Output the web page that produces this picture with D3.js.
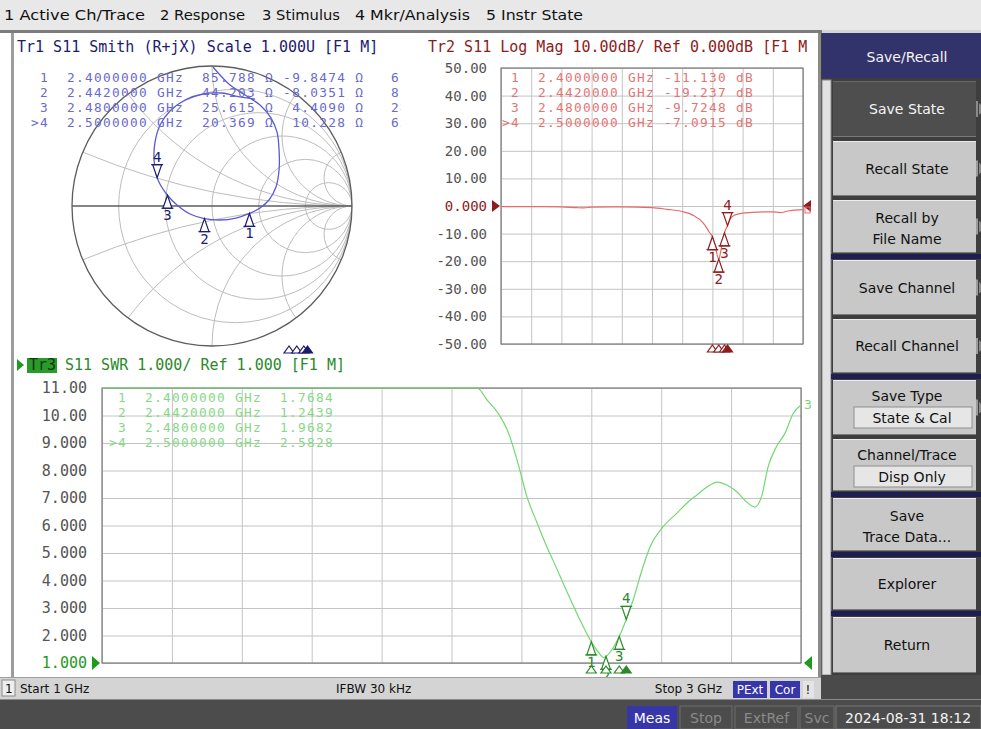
<!DOCTYPE html>
<html>
<head>
<meta charset="utf-8">
<title>S11 Smith / Log Mag / SWR</title>
<script src="https://cdn.jsdelivr.net/npm/d3@7/dist/d3.min.js"></script>
<style>
  body { margin: 0; background: #d6d6d6; overflow: hidden; }
  svg { display: block; }
  text { white-space: pre; }
</style>
</head>
<body>
<svg id="screen" width="981" height="729"></svg>
<script>
// stimulus, GHz
var freqDomain = [1, 3];
var freqTicks = [1, 1.2, 1.4, 1.6, 1.8, 2, 2.2, 2.4, 2.6, 2.8, 3];

// marker readouts
var markerNames = ["1", "2", "3", ">4"];
var markerFreq = [2.4, 2.442, 2.48, 2.5];
var markerRes = [85.788, 44.203, 25.615, 20.369];
var markerReact = [-9.8474, -8.0351, 4.4090, 10.228];
var markerEquiv = ["6.7341 pF", "8.1110 pF", "282.95 pH", "651.13 pH"];
var markerDb = [-11.130, -19.237, -9.7248, -7.0915];
var markerSwr = [1.7684, 1.2439, 1.9682, 2.5828];

// Tr1 smith trace, reflection coefficient
var smithRe = [0.007, 0.057, 0.129, 0.236, 0.343, 0.421, 0.464, 0.479, 0.479, 0.457, 0.407, 0.343, 0.268, 0.171, 0.057,
  -0.054, -0.157, -0.25, -0.318, -0.364, -0.392, -0.414, -0.407, -0.371, -0.3, -0.193, -0.064, 0.071, 0.2, 0.307];
var smithIm = [0.993, 0.936, 0.864, 0.793, 0.721, 0.629, 0.529, 0.4, 0.257, 0.136, 0.043, -0.014, -0.053, -0.086, -0.1,
  -0.09, -0.057, 0.007, 0.077, 0.143, 0.203, 0.329, 0.457, 0.579, 0.679, 0.757, 0.8, 0.807, 0.779, 0.764];

// Tr2 log mag trace
var magFreq = [1.0, 1.2, 1.4, 1.5, 1.55, 1.6, 1.8, 2.0, 2.1, 2.2, 2.27, 2.34, 2.38, 2.4, 2.42, 2.442, 2.455, 2.48, 2.5,
  2.52, 2.55, 2.6, 2.7, 2.8, 2.85, 2.9, 3.0];
var magDb = [-0.2, -0.2, -0.3, -0.6, -0.7, -0.4, -0.3, -0.6, -1.2, -2.0, -3.3, -6.2, -9.5, -11.13, -15.0, -19.24, -16.5,
  -9.72, -7.09, -4.5, -3.2, -2.6, -2.2, -2.1, -2.4, -1.8, -1.3];
var magTicks = [50, 40, 30, 20, 10, 0, -10, -20, -30, -40, -50];

// Tr3 SWR trace (clipped at top of scale below 2.07 GHz)
var swrFreq = [1.0, 1.5, 2.0, 2.073, 2.102, 2.133, 2.162, 2.19, 2.216, 2.245, 2.273, 2.29, 2.33, 2.37, 2.4, 2.42, 2.435,
  2.442, 2.46, 2.48, 2.5, 2.52, 2.545, 2.568, 2.605, 2.645, 2.674, 2.702, 2.731, 2.76, 2.788, 2.817, 2.845, 2.868, 2.887,
  2.906, 2.93, 2.954, 2.978, 3.0];
var swrVal = [11, 11, 11, 11, 10.56, 10.09, 9.4, 8.27, 7.04, 6.09, 5.22, 4.75, 3.6, 2.5, 1.77, 1.4, 1.2,
  1.24, 1.5, 1.97, 2.58, 3.3, 4.38, 5.22, 5.95, 6.45, 6.82, 7.11, 7.4, 7.58, 7.47, 7.22, 6.85, 6.67, 7.05,
  8.14, 8.87, 9.35, 10.08, 10.38];
var swrTicks = [11, 10, 9, 8, 7, 6, 5, 4, 3, 2, 1];

var menuItems = ["1 Active Ch/Trace", "2 Response", "3 Stimulus", "4 Mkr/Analysis", "5 Instr State"];
var softkeys = [
  { lines: ["Save State"], y0: 81, y1: 137, active: true, arrow: true },
  { lines: ["Recall State"], y0: 141, y1: 196, arrow: true },
  { lines: ["Recall by", "File Name"], y0: 200, y1: 253, arrow: true },
  { lines: ["Save Channel"], y0: 260, y1: 315, arrow: true },
  { lines: ["Recall Channel"], y0: 319, y1: 373, arrow: true },
  { lines: ["Save Type"], box: "State & Cal", y0: 380, y1: 435, arrow: true },
  { lines: ["Channel/Trace"], box: "Disp Only", y0: 439, y1: 491 },
  { lines: ["Save", "Trace Data..."], y0: 498, y1: 551 },
  { lines: ["Explorer"], y0: 558, y1: 610 },
  { lines: ["Return"], y0: 617, y1: 673 }
];
var navySeps = [254, 374, 492, 552, 611];

var MONO = "'DejaVu Sans Mono', monospace";
var UI = "'DejaVu Sans', Verdana, sans-serif";
var loc = d3.formatLocale({ decimal: ".", thousands: ",", grouping: [3], currency: ["", ""], minus: "-" });
var num5 = loc.format(".5r");
var tick4 = loc.format(".4r");

var svg = d3.select("#screen");

function label(parent, x, y, str, size, color, family, anchor) {
  return parent.append("text")
    .attr("x", x)
    .attr("y", y)
    .attr("font-family", family || MONO)
    .attr("font-size", size)
    .attr("fill", color)
    .attr("text-anchor", anchor || "start")
    .text(str);
}

// readout rows: smaller glyphs, same 9px pitch
function row(parent, x, y, str, color) {
  return label(parent, x, y, str, 12.8, color).attr("letter-spacing", 1.3);
}

function pad(s, n) {
  s = String(s);
  while (s.length < n) s = " " + s;
  return s;
}

function rect(parent, x, y, w, h, fill) {
  return parent.append("rect").attr("x", x).attr("y", y).attr("width", w).attr("height", h).attr("fill", fill);
}

// grid lines only, no tick text
function gridOnly(a) {
  a.select(".domain").remove();
  a.selectAll("text").remove();
  a.selectAll("line").attr("stroke", "#c4c4c4");
}

// marker glyph: triangle pointing at the trace point
function marker(g, x, y, up, name, color) {
  var s = up ? 1 : -1;
  g.append("path")
    .attr("d", "M" + x + "," + y + "l-4.5," + (13 * s) + "h9z")
    .attr("fill", "#fff").attr("stroke", color).attr("stroke-width", 1.2);
  g.append("line")
    .attr("x1", x - 6).attr("x2", x + 6).attr("y1", y + 13 * s).attr("y2", y + 13 * s)
    .attr("stroke", color).attr("stroke-width", 1.2);
  label(g, x, up ? y + 25 : y - 16, name, 14, color, MONO, "middle");
}

// small stimulus indicators under each chart
function indicators(g, xs, y, color) {
  xs.forEach(function(x, i) {
    g.append("path")
      .attr("d", "M" + x + "," + (y - 6) + "l-5,7h10z")
      .attr("fill", i == xs.length - 1 ? color : "#fff")
      .attr("stroke", color).attr("stroke-width", 1.2);
  });
}

// ---------- frame ----------
rect(svg, 0, 0, 981, 729, "#d6d6d6");
rect(svg, 0, 0, 981, 30, "#e8e8e8");
var menuX = [4, 160, 262, 355, 486];
var menuW = [141, 85, 78, 115, 97];
menuItems.forEach(function(m, i) {
  label(svg, menuX[i], 20, m, 14, "#111", UI).attr("textLength", menuW[i]).attr("lengthAdjust", "spacingAndGlyphs");
});
rect(svg, 0, 30, 822, 3, "#7c7c7c");
rect(svg, 0, 33, 820, 644, "#ffffff");
rect(svg, 11, 33, 3, 644, "#9c9c9c");
rect(svg, 818, 33, 3, 644, "#8a8a8a");

// ---------- Tr1 smith ----------
var cx = 212, cy = 206, R = 140;
var sx = d3.scaleLinear().domain([-1, 1]).range([cx - R, cx + R]);
var sy = d3.scaleLinear().domain([-1, 1]).range([cy + R, cy - R]);
var smith = svg.append("g");
svg.append("clipPath").attr("id", "unit").append("circle").attr("cx", cx).attr("cy", cy).attr("r", R);
var grid = smith.append("g").attr("clip-path", "url(#unit)").attr("fill", "none").attr("stroke", "#bcbcbc").attr("stroke-width", 1);
[0.2, 0.5, 1, 2, 5].forEach(function(r) {
  grid.append("circle").attr("cx", sx(r / (1 + r))).attr("cy", sy(0)).attr("r", R / (1 + r));
  grid.append("circle").attr("cx", sx(1)).attr("cy", sy(1 / r)).attr("r", R / r);
  grid.append("circle").attr("cx", sx(1)).attr("cy", sy(-1 / r)).attr("r", R / r);
});
smith.append("circle").attr("cx", cx).attr("cy", cy).attr("r", R).attr("fill", "none").attr("stroke", "#5c5c5c").attr("stroke-width", 1.3);
smith.append("line").attr("x1", sx(-1)).attr("x2", sx(1)).attr("y1", sy(0)).attr("y2", sy(0)).attr("stroke", "#5c5c5c").attr("stroke-width", 1.3);

label(svg, 17, 52, "Tr1 S11 Smith (R+jX) Scale 1.000U [F1 M]", 15, "#1c1c6e");
// the last readout column runs off the window edge
svg.append("clipPath").attr("id", "smithTable").append("rect").attr("x", 14).attr("y", 60).attr("width", 387).attr("height", 80);
var st = svg.append("g").attr("clip-path", "url(#smithTable)");
markerNames.forEach(function(n, i) {
  var s = pad(n, 2) + "  " + markerFreq[i].toFixed(7) + " GHz  " + num5(markerRes[i]) + " Ω " +
    pad(num5(markerReact[i]), 7) + " Ω";
  row(st, 31, 82 + i * 15, s, "#6a6acc");
  row(st, 391, 82 + i * 15, markerEquiv[i].slice(0, 2), "#6a6acc");
});

smith.append("path")
  .datum(d3.zip(smithRe, smithIm))
  .attr("d", d3.line().x(function(d) { return sx(d[0]); }).y(function(d) { return sy(d[1]); }).curve(d3.curveCatmullRom))
  .attr("fill", "none").attr("stroke", "#5a5ad2").attr("stroke-width", 1.3);

markerNames.forEach(function(n, i) {
  var zr = markerRes[i] / 50, zx = markerReact[i] / 50;
  var den = (zr + 1) * (zr + 1) + zx * zx;
  var gr = (zr * zr + zx * zx - 1) / den, gi = 2 * zx / den;
  marker(smith, sx(gr), sy(gi), i < 3, n.replace(">", ""), "#1c1c6e");
});
var smithFreq = d3.scaleLinear().domain(freqDomain).range([30, 400]);
indicators(smith, markerFreq.map(smithFreq), 352, "#1c1c6e");

// ---------- Tr2 log mag ----------
var mx = d3.scaleLinear().domain(freqDomain).range([501, 803]);
var my = d3.scaleLinear().domain([-50, 50]).range([344, 68]);
var mag = svg.append("g");
mag.append("g").attr("transform", "translate(501,0)")
  .call(d3.axisLeft(my).tickValues(magTicks).tickSize(-302))
  .call(gridOnly);
mag.append("g").attr("transform", "translate(0,344)")
  .call(d3.axisBottom(mx).tickValues(freqTicks).tickSize(-276))
  .call(gridOnly);
mag.append("rect").attr("x", 501).attr("y", 68).attr("width", 302).attr("height", 276)
  .attr("fill", "none").attr("stroke", "#7a7a7a").attr("stroke-width", 1.2);
mag.append("g").attr("transform", "translate(501,0)")
  .call(d3.axisLeft(my).tickValues(magTicks).tickSize(0).tickPadding(14).tickFormat(tick4))
  .call(function(a) {
    a.select(".domain").remove();
    a.selectAll("text").attr("font-family", MONO).attr("font-size", 14)
      .attr("fill", function(d) { return d == 0 ? "#8e1c1c" : "#555"; });
  });
mag.append("path").attr("d", "M492,200l8,6l-8,6z").attr("fill", "#8e1c1c");
mag.append("path").attr("d", "M811,200l-8,6l8,6z").attr("fill", "#8e1c1c");

label(svg, 428, 52, "Tr2 S11 Log Mag 10.00dB/ Ref 0.000dB [F1 M", 15, "#8e1c1c");
markerNames.forEach(function(n, i) {
  var s = pad(n, 2) + "  " + markerFreq[i].toFixed(7) + " GHz " + pad(num5(markerDb[i]), 7) + " dB";
  row(mag, 502, 82 + i * 15, s, "#e47474");
});
mag.append("path")
  .datum(d3.zip(magFreq, magDb))
  .attr("d", d3.line().x(function(d) { return mx(d[0]); }).y(function(d) { return my(d[1]); }).curve(d3.curveMonotoneX))
  .attr("fill", "none").attr("stroke", "#e86a6a").attr("stroke-width", 1.2);
mag.append("rect").attr("x", 805).attr("y", 207).attr("width", 5).attr("height", 6)
  .attr("fill", "none").attr("stroke", "#e86a6a");
markerNames.forEach(function(n, i) {
  marker(mag, mx(markerFreq[i]), my(markerDb[i]), i < 3, n.replace(">", ""), "#8e1c1c");
});
indicators(mag, markerFreq.map(mx), 351, "#8e1c1c");

// ---------- Tr3 SWR ----------
var wx = d3.scaleLinear().domain(freqDomain).range([102, 801]);
var wy = d3.scaleLinear().domain([1, 11]).range([663, 388]);
svg.append("clipPath").attr("id", "swrClip").append("rect").attr("x", 14).attr("y", 355).attr("width", 804).attr("height", 322);
var swr = svg.append("g").attr("clip-path", "url(#swrClip)");
swr.append("g").attr("transform", "translate(102,0)")
  .call(d3.axisLeft(wy).tickValues(swrTicks).tickSize(-699))
  .call(gridOnly);
swr.append("g").attr("transform", "translate(0,663)")
  .call(d3.axisBottom(wx).tickValues(freqTicks).tickSize(-275))
  .call(gridOnly);
swr.append("rect").attr("x", 102).attr("y", 388).attr("width", 699).attr("height", 275)
  .attr("fill", "none").attr("stroke", "#7a7a7a").attr("stroke-width", 1.2);
swr.append("g").attr("transform", "translate(102,0)")
  .call(d3.axisLeft(wy).tickValues(swrTicks).tickSize(0).tickPadding(15).tickFormat(tick4))
  .call(function(a) {
    a.select(".domain").remove();
    a.selectAll("text").attr("font-family", MONO).attr("font-size", 15)
      .attr("fill", function(d) { return d == 1 ? "#1e9a1e" : "#555"; });
  });
swr.append("path").attr("d", "M92,656l8,7l-8,7z").attr("fill", "#1e9a1e");
swr.append("path").attr("d", "M812,656l-8,7l8,7z").attr("fill", "#1e9a1e");

svg.append("path").attr("d", "M17,359l7,6l-7,6z").attr("fill", "#1e9a1e");
rect(svg, 27, 358, 30, 15, "#2a9a2a");
label(svg, 29, 370, "Tr3", 15, "#0d3a0d");
label(svg, 65, 370, "S11 SWR 1.000/ Ref 1.000 [F1 M]", 15, "#2a8a2a");
markerNames.forEach(function(n, i) {
  var s = pad(n, 2) + "  " + markerFreq[i].toFixed(7) + " GHz  " + num5(markerSwr[i]);
  row(swr, 109, 402 + i * 15, s, "#86d886");
});
swr.append("path")
  .datum(d3.zip(swrFreq, swrVal))
  .attr("d", d3.line().x(function(d) { return wx(d[0]); }).y(function(d) { return wy(d[1]); }).curve(d3.curveMonotoneX))
  .attr("fill", "none").attr("stroke", "#72d872").attr("stroke-width", 1.2);
label(swr, 804, 409, "3", 13, "#72d872");
markerNames.forEach(function(n, i) {
  marker(swr, wx(markerFreq[i]), wy(markerSwr[i]), i < 3, n.replace(">", ""), "#2a8a2a");
});
indicators(swr, markerFreq.map(wx), 672, "#2a8a2a");

// ---------- status bars ----------
rect(svg, 0, 677, 821, 22, "#d4d4d4");
rect(svg, 0, 677, 821, 1, "#a0a0a0");
rect(svg, 2, 680, 13, 16, "#eeeeee").attr("stroke", "#8a8a8a");
label(svg, 5, 693, "1", 12, "#111", UI);
label(svg, 20, 693, "Start 1 GHz", 12, "#111", UI);
label(svg, 336, 693, "IFBW 30 kHz", 12, "#111", UI);
label(svg, 722, 693, "Stop 3 GHz", 12, "#111", UI, "end");
rect(svg, 733, 681, 34, 17, "#3636a8");
label(svg, 750, 694, "PExt", 12, "#fff", UI, "middle");
rect(svg, 770, 681, 30, 17, "#3636a8");
label(svg, 785, 694, "Cor", 12, "#fff", UI, "middle");
rect(svg, 803, 681, 11, 17, "#e4e4e4");
label(svg, 808, 694, "!", 12, "#111", UI, "middle");

rect(svg, 0, 699, 981, 30, "#4c4c4c");
rect(svg, 0, 699, 981, 1, "#8c8c8c");
var flags = [["Meas", 627, 50, true], ["Stop", 680, 52], ["ExtRef", 735, 63], ["Svc", 800, 34]];
flags.forEach(function(f) {
  rect(svg, f[1], 706, f[2], 23, f[3] ? "#3636a8" : "#4c4c4c").attr("stroke", f[3] ? "none" : "#6c6c6c");
  label(svg, f[1] + f[2] / 2, 723, f[0], 14, f[3] ? "#fff" : "#8a8a8a", UI, "middle");
});
rect(svg, 836, 706, 145, 23, "#4c4c4c").attr("stroke", "#777");
label(svg, 845, 723, "2024-08-31 18:12", 14, "#f2f2f2", UI);

// ---------- softkey panel ----------
rect(svg, 821, 33, 160, 666, "#3e3e3e");
rect(svg, 822, 80, 9, 595, "#e2e2e2").attr("stroke", "#8a8a8a");
rect(svg, 822, 33, 159, 45, "#33336c");
label(svg, 907, 62, "Save/Recall", 14, "#f4f4f4", UI, "middle");
navySeps.forEach(function(y) { rect(svg, 831, y, 150, 5, "#1e1e52"); });
softkeys.forEach(function(k) {
  var h = k.y1 - k.y0;
  rect(svg, 833, k.y0, 143, h, k.active ? "#4e4e4e" : "#c8c8c8");
  rect(svg, 833, k.y0, 143, 1, k.active ? "#6a6a6a" : "#ececec");
  rect(svg, 833, k.y1 - 1, 143, 1, "#7a7a7a");
  if (k.arrow) {
    rect(svg, 976, k.y0 + h / 2 - 8, 2, 16, k.active ? "#8a8a8a" : "#9c9c9c");
    svg.append("path").attr("d", "M979," + (k.y0 + h / 2 - 6) + "l6,6l-6,6z").attr("fill", "#8a8a8a");
  }
  var color = k.active ? "#f4f4f4" : "#111";
  if (k.box) {
    label(svg, 907, k.y0 + 21, k.lines[0], 14, color, UI, "middle");
    rect(svg, 854, k.y0 + 27, 118, 21, "#e6e6e6").attr("stroke", "#8e8e8e");
    label(svg, 912, k.y0 + 43, k.box, 14, color, UI, "middle");
  } else if (k.lines.length == 2) {
    label(svg, 907, k.y0 + h / 2 - 4, k.lines[0], 14, color, UI, "middle");
    label(svg, 907, k.y0 + h / 2 + 17, k.lines[1], 14, color, UI, "middle");
  } else {
    label(svg, 907, k.y0 + h / 2 + 5, k.lines[0], 14, color, UI, "middle");
  }
});
rect(svg, 821, 675, 160, 24, "#4a4a4a");
</script>
</body>
</html>
